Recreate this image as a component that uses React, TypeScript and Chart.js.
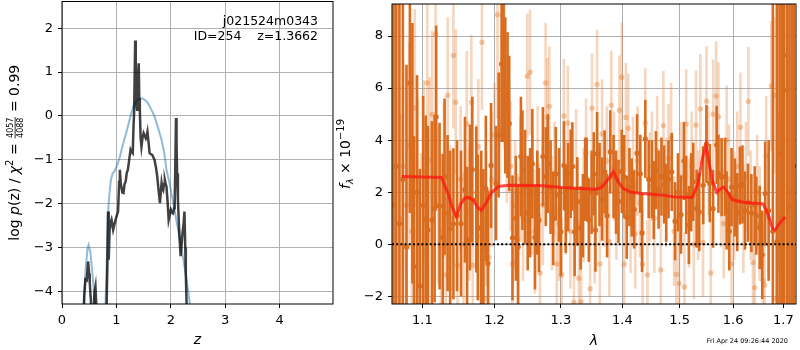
import React, { useEffect, useRef } from "react";
import { Chart, registerables } from "chart.js";

Chart.register(...registerables);

const FONT = '"DejaVu Sans", "Liberation Sans", Arial, sans-serif';

// ---------- Left panel: p(z) ----------
const zTemplate = [0.36, 0.4, 0.44, 0.47, 0.49, 0.52, 0.56, 0.6, 0.64, 0.7, 0.78, 0.8, 0.83, 0.846, 0.87, 0.9, 0.93, 0.97, 1.02, 1.06, 1.12, 1.18, 1.25, 1.31, 1.36, 1.4, 1.45, 1.49, 1.54, 1.58, 1.64, 1.7, 1.76, 1.83, 1.88, 1.92, 1.97, 2.01, 2.06, 2.1, 2.15, 2.19, 2.24, 2.29, 2.33, 2.37, 2.42];
const logpTemplate = [-5.0, -4.2, -3.4, -3.02, -2.94, -3.1, -3.6, -4.2, -5.0, -6.0, -5.0, -4.3, -3.0, -2.22, -1.8, -1.45, -1.32, -1.25, -1.1, -0.95, -0.65, -0.39, -0.05, 0.21, 0.33, 0.38, 0.4, 0.39, 0.35, 0.29, 0.15, -0.01, -0.25, -0.55, -0.85, -1.23, -1.5, -1.76, -2.08, -2.37, -2.7, -2.98, -3.35, -3.74, -4.1, -4.5, -5.2];

const zFit = [0.39, 0.41, 0.43, 0.455, 0.48, 0.5, 0.51, 0.53, 0.55, 0.57, 0.6, 0.615, 0.63, 0.65, 0.73, 0.81, 0.835, 0.846, 0.855, 0.862, 0.875, 0.89, 0.91, 0.94, 0.97, 1.0, 1.03, 1.05, 1.063, 1.08, 1.09, 1.11, 1.13, 1.15, 1.17, 1.19, 1.21, 1.24, 1.26, 1.28, 1.3, 1.315, 1.325, 1.345, 1.355, 1.365, 1.38, 1.395, 1.41, 1.42, 1.43, 1.445, 1.46, 1.48, 1.5, 1.52, 1.54, 1.555, 1.57, 1.59, 1.61, 1.64, 1.66, 1.7, 1.73, 1.75, 1.775, 1.8, 1.815, 1.83, 1.845, 1.86, 1.875, 1.89, 1.905, 1.92, 1.94, 1.96, 1.98, 2.0, 2.02, 2.04, 2.06, 2.07, 2.085, 2.095, 2.105, 2.115, 2.13, 2.15, 2.17, 2.18, 2.2, 2.215, 2.235, 2.25, 2.265, 2.275, 2.29, 2.31];
const logpFit = [-5.0, -4.1, -3.73, -3.75, -3.32, -3.6, -3.8, -4.2, -5.0, -4.6, -4.0, -3.89, -4.3, -5.0, -6.0, -5.0, -3.3, -2.18, -2.9, -3.28, -2.6, -2.45, -2.37, -2.6, -2.44, -2.3, -2.18, -1.5, -1.23, -1.55, -1.61, -1.75, -1.76, -1.55, -1.5, -1.3, -1.23, -0.95, -0.77, -0.82, -0.85, -0.2, 0.06, 1.72, 0.8, 0.3, 0.14, 0.9, 1.2, 0.4, 0.14, -0.5, -0.7, -0.5, -0.39, -0.45, -0.51, -0.45, -0.36, -0.6, -0.85, -0.88, -0.89, -1.0, -1.2, -1.38, -1.7, -1.99, -1.75, -1.53, -1.65, -1.69, -1.55, -1.46, -1.55, -1.61, -1.95, -2.37, -2.25, -2.14, -2.2, -2.22, -2.1, -2.07, -0.9, -0.05, -0.6, -1.31, -1.9, -2.52, -3.0, -3.2, -2.9, -2.67, -2.45, -2.18, -3.0, -3.6, -4.3, -5.0];

const zTicks = [0, 1, 2, 3, 4];
const logpTicks = [-4, -3, -2, -1, 0, 1, 2];
const Z_MIN = 0;
const Z_MAX = 4.98;
const LOGP_MIN = -4.29;
const LOGP_MAX = 2.61;

// ---------- Right panel: spectrum ----------
const lamDark = [1.0625, 1.066, 1.07, 1.0745, 1.0792, 1.0836, 1.0869, 1.0891, 1.093, 1.0966, 1.101, 1.1045, 1.1075, 1.1128, 1.1164, 1.1185, 1.1231, 1.1275, 1.1299, 1.134, 1.1375, 1.142, 1.147, 1.1525, 1.158, 1.161, 1.165, 1.1683, 1.1739, 1.1761, 1.181, 1.184, 1.1875, 1.1905, 1.195, 1.2022, 1.206, 1.2103, 1.2132, 1.2157, 1.219, 1.2215, 1.2263, 1.2313, 1.2347, 1.2388, 1.2411, 1.2451, 1.249, 1.2526, 1.256, 1.26, 1.2635, 1.266, 1.2721, 1.2765, 1.2798, 1.2839, 1.288, 1.292, 1.297, 1.3, 1.3048, 1.3076, 1.3115, 1.3155, 1.3181, 1.3217, 1.326, 1.3313, 1.3349, 1.3385, 1.341, 1.3445, 1.349, 1.3526, 1.3553, 1.358, 1.362, 1.3662, 1.3704, 1.3744, 1.3797, 1.3852, 1.3893, 1.3935, 1.399, 1.403, 1.4074, 1.412, 1.4159, 1.42, 1.425, 1.4306, 1.4336, 1.4392, 1.4451, 1.4508, 1.454, 1.4578, 1.4625, 1.4675, 1.4723, 1.476, 1.4801, 1.4859, 1.4918, 1.497, 1.5025, 1.5079, 1.512, 1.5169, 1.521, 1.5249, 1.5311, 1.536, 1.5434, 1.5494, 1.5556, 1.5618, 1.5686, 1.5719, 1.578, 1.5845, 1.5875, 1.5926, 1.597, 1.6035, 1.608, 1.6131, 1.6181, 1.623, 1.629, 1.6356, 1.6422, 1.6453, 1.6521, 1.6572, 1.663, 1.67, 1.6785, 1.6866, 1.692, 1.6965, 1.7007, 1.7068, 1.7123, 1.717, 1.7215];
const fluxDark = [1.5, 3.0, 0.8, 2.5, -0.1, 6.2, 3.5, -0.85, 2.0, -1.6, 1.5, 0.95, 0.55, 0.93, 1.37, 4.9, 1.47, 0.27, 2.6, 1.2, 0.6, 0.79, 1.1, 0.8, 2.1, 0.18, 1.8, 2.87, 1.72, 0.65, 0.6, -0.11, 2.14, -0.73, 3.03, 2.35, 4.2, 6.93, 6.93, 5.72, 5.35, 4.64, 0.25, 1.0, -0.1, 3.37, 2.85, 2.2, 1.2, 1.6, 3.1, 0.27, 1.6, 0.93, 3.37, 2.6, 3.1, 2.2, 1.0, 2.71, 1.9, 0.48, 3.03, 1.37, 2.2, 2.71, 2.99, 0.48, 1.65, 0.63, 1.1, 2.5, 2.5, 0.93, 2.0, 2.71, 0.55, 3.48, 2.3, 1.74, 2.78, 1.1, 3.55, 2.6, 2.0, 1.65, 2.8, 2.6, 1.04, 2.2, 1.8, 1.34, 3.5, 2.71, 0.44, 4.05, 2.5, 2.5, 1.7, 2.85, 2.1, 2.6, 2.3, 1.6, 2.5, 2.78, 0.89, 2.0, 1.14, 3.2, 1.9, 0.74, 2.0, 2.4, 1.37, 1.24, 2.27, 3.85, 2.35, 1.37, 3.82, 2.71, 2.58, 2.6, 1.3, 0.5, 2.2, 1.8, 1.24, 2.26, 2.3, 1.3, 1.6, 1.2, 1.5, 1.1, 0.65, -0.4, 1.95, 1.3, 0.5, 0.1, 3.47, 1.0, 7.26, 5.93, 1.45, 2.0, 3.0];
const errDark = [14, 14, 12, 10, 7, 5, 5, 5, 4.5, 4.5, 4.2, 4, 4, 3.8, 3.6, 3.5, 3.2, 3.2, 3, 3, 3, 2.9, 2.9, 2.8, 2.8, 2.8, 2.8, 2.8, 2.8, 2.8, 3, 3, 2.8, 2.8, 2.4, 2.2, 2.4, 3, 3, 3, 2.8, 2.6, 2.4, 2.4, 2.4, 2.3, 2.3, 2.2, 2.2, 2.1, 2.1, 2.0, 2.0, 2.0, 1.9, 1.9, 1.9, 1.8, 1.8, 1.8, 1.8, 1.7, 1.7, 1.7, 1.7, 1.7, 1.7, 1.7, 1.7, 1.6, 1.6, 1.6, 1.6, 1.6, 1.6, 1.6, 1.6, 1.6, 1.6, 1.6, 1.6, 1.6, 1.6, 1.6, 1.6, 1.6, 1.6, 1.6, 1.6, 1.5, 1.5, 1.5, 1.5, 1.5, 1.5, 1.5, 1.5, 1.5, 1.5, 1.5, 1.5, 1.5, 1.5, 1.5, 1.5, 1.5, 1.5, 1.5, 1.5, 1.5, 1.5, 1.5, 1.5, 1.5, 1.5, 1.5, 1.5, 1.5, 1.5, 1.5, 1.5, 1.5, 1.5, 1.5, 1.5, 1.5, 1.5, 1.5, 1.5, 1.5, 1.5, 1.5, 1.5, 1.5, 1.5, 1.5, 1.6, 1.7, 2.0, 2.7, 9, 12, 12, 13, 14, 14, 14, 14, 14];

const lamLight = [1.072, 1.075, 1.079, 1.0826, 1.086, 1.09, 1.094, 1.098, 1.102, 1.1066, 1.1097, 1.113, 1.1177, 1.121, 1.125, 1.129, 1.1318, 1.1342, 1.138, 1.142, 1.1452, 1.1477, 1.152, 1.156, 1.1605, 1.164, 1.167, 1.169, 1.174, 1.1768, 1.18, 1.182, 1.185, 1.188, 1.192, 1.196, 1.2, 1.2043, 1.208, 1.2141, 1.218, 1.2236, 1.2263, 1.23, 1.234, 1.238, 1.242, 1.2483, 1.2525, 1.256, 1.26, 1.264, 1.2677, 1.272, 1.2762, 1.279, 1.282, 1.286, 1.29, 1.2935, 1.297, 1.3013, 1.3048, 1.308, 1.311, 1.315, 1.3206, 1.324, 1.3285, 1.332, 1.336, 1.34, 1.3466, 1.3497, 1.354, 1.358, 1.3625, 1.3662, 1.37, 1.374, 1.378, 1.3815, 1.386, 1.39, 1.395, 1.399, 1.403, 1.406, 1.41, 1.414, 1.418, 1.422, 1.426, 1.43, 1.4345, 1.4392, 1.443, 1.447, 1.451, 1.455, 1.46, 1.4664, 1.471, 1.476, 1.48, 1.4847, 1.49, 1.4943, 1.499, 1.503, 1.5088, 1.512, 1.517, 1.522, 1.526, 1.53, 1.534, 1.538, 1.543, 1.5494, 1.553, 1.5575, 1.562, 1.5676, 1.572, 1.577, 1.582, 1.5875, 1.592, 1.597, 1.602, 1.608, 1.6142, 1.62, 1.625, 1.6297, 1.634, 1.6388, 1.6422, 1.647, 1.652, 1.6588, 1.662, 1.665, 1.67, 1.6755, 1.6812, 1.686, 1.691, 1.696];
const fluxLight = [1.0, 3.0, 1.5, 3.79, 0.5, 5.24, 2.0, 0.0, 2.8, 6.2, 3.22, 5.0, 8.08, 1.5, 0.5, 2.5, -1.17, 5.72, 1.0, 7.25, 5.46, -0.8, 2.5, 0.0, 4.62, 1.2, 5.45, -0.8, 2.0, 3.75, 0.3, 7.76, -2.1, 1.0, -0.5, 2.5, 4.2, 8.82, 4.43, 7.67, 4.0, 3.0, -0.75, 1.5, 0.2, 2.5, 1.0, 6.46, 6.61, 2.0, 0.5, 3.0, -1.1, 1.5, 6.2, 4.86, 5.3, 1.2, 2.5, -0.75, 0.8, -1.17, 4.93, 1.8, 4.66, 0.5, -2.23, 3.0, -1.3, -2.2, 1.5, 3.5, -1.7, 5.23, 0.6, 6.14, -0.75, 4.24, 2.0, 3.2, 0.1, 5.34, 3.0, 1.5, 5.15, 6.42, -0.76, 4.87, 4.46, 1.0, 2.8, 0.4, 3.2, 1.6, -0.76, 4.66, -1.17, 2.2, 3.0, 1.0, 3.6, -0.98, 4.56, 2.0, 3.3, 4.1, 0.5, -1.16, -1.5, 2.6, -1.64, 4.62, 1.2, 3.0, 0.0, 4.58, 1.5, 5.2, 0.07, 5.5, 3.2, -1.1, 5.0, 5.7, 4.9, 2.0, 0.8, 4.0, 2.5, -0.75, 1.5, 3.0, 4.5, 1.0, 2.6, 5.49, 1.5, -0.7, -1.66, 2.0, 0.8, -1.4, -1.57, 3.4, 1.0, 6.08, 5.72, -2.1, 2.0, 1.0];
const errLight = [4, 4, 4, 4, 3.8, 3.8, 3.6, 3.5, 3.5, 3.4, 3.2, 3.2, 3.2, 3, 3, 3, 3, 3, 2.8, 2.8, 2.8, 2.8, 2.8, 2.8, 2.8, 2.6, 2.6, 2.6, 2.6, 2.6, 2.6, 2.6, 2.6, 2.6, 2.6, 2.6, 2.0, 4, 2.2, 4, 2.4, 2.5, 2.5, 2.5, 2.5, 2.4, 2.4, 2.4, 2.4, 2.4, 2.4, 2.3, 2.3, 2.3, 2.3, 2.3, 2.3, 2.2, 2.2, 2.2, 2.2, 2.2, 2.2, 2.2, 2.2, 2.2, 2.2, 2.2, 2.2, 2.2, 2.2, 2.1, 2.1, 2.1, 2.1, 2.1, 2.1, 2.1, 2.1, 2.1, 2.1, 2.1, 2.1, 2.1, 2.1, 2.1, 2.1, 2.1, 2.1, 2.1, 2.1, 2.1, 2.1, 2.1, 2.1, 2.1, 2.1, 2.1, 2.1, 2.1, 2.1, 2.1, 2.1, 2.1, 2.1, 2.1, 2.1, 2.1, 2.1, 2.1, 2.1, 2.1, 2.1, 2.1, 2.1, 2.1, 2.1, 2.1, 2.1, 2.1, 2.1, 2.1, 2.1, 2.1, 2.1, 2.1, 2.1, 2.1, 2.1, 2.1, 2.1, 2.1, 2.1, 2.1, 2.1, 2.1, 2.1, 2.1, 2.2, 2.2, 2.2, 2.2, 2.3, 2.3, 2.4, 2.5, 3, 3, 3, 4, 5];

const lamModel = [1.0733, 1.1, 1.1258, 1.1347, 1.14, 1.146, 1.152, 1.158, 1.164, 1.17, 1.176, 1.181, 1.188, 1.196, 1.206, 1.22, 1.266, 1.3018, 1.3549, 1.365, 1.378, 1.385, 1.393, 1.401, 1.415, 1.4323, 1.467, 1.491, 1.523, 1.533, 1.5422, 1.5485, 1.5546, 1.5606, 1.5686, 1.575, 1.5816, 1.5905, 1.5985, 1.6198, 1.6588, 1.667, 1.678, 1.683, 1.692, 1.7034];
const fluxModel = [2.61, 2.59, 2.57, 1.95, 1.45, 1.08, 1.55, 1.78, 1.8, 1.68, 1.42, 1.31, 1.6, 2.0, 2.22, 2.27, 2.26, 2.18, 2.12, 2.18, 2.55, 2.8, 2.4, 2.15, 2.0, 1.95, 1.9, 1.82, 1.8, 2.3, 3.34, 3.8, 3.1, 2.45, 2.0, 2.12, 2.2, 1.98, 1.71, 1.62, 1.55, 1.24, 0.6, 0.55, 0.8, 1.05];

const lamTicks = [1.1, 1.2, 1.3, 1.4, 1.5, 1.6, 1.7];
const fluxTicks = [-2, 0, 2, 4, 6, 8];
const LAM_MIN = 1.0605;
const LAM_MAX = 1.726;
const FLUX_MIN = -2.29;
const FLUX_MAX = 9.23;
const ZERO_LEVEL = 0;

const DARK = "rgb(217,108,30)";
const LIGHT_BAR = "rgba(226,118,40,0.3)";
const LIGHT_PT = "rgba(226,118,40,0.38)";

const fmtNum = (v: number, digits = 0) => {
  const s = Math.abs(v).toFixed(digits);
  return v < 0 ? "\u2212" + s : s;
};

type Run = { t?: string; size: number; italic?: boolean; dy?: number; frac?: [string, string]; numDy?: number; denDy?: number; barDy?: number };

function drawRuns(ctx: CanvasRenderingContext2D, runs: Run[], cx: number, cy: number, base: number, rotate: boolean) {
  ctx.save();
  ctx.translate(cx, cy);
  if (rotate) ctx.rotate(-Math.PI / 2);
  const fontFor = (r: Run) => `${r.italic ? "italic " : ""}${r.size}px ${FONT}`;
  const widths = runs.map((r) => {
    ctx.font = fontFor(r);
    if (r.frac) return Math.max(ctx.measureText(r.frac[0]).width, ctx.measureText(r.frac[1]).width) + 2;
    return ctx.measureText(r.t || "").width;
  });
  const total = widths.reduce((a, b) => a + b, 0);
  let x = -total / 2;
  ctx.fillStyle = "#000";
  ctx.textBaseline = "alphabetic";
  ctx.textAlign = "left";
  runs.forEach((r, i) => {
    ctx.font = fontFor(r);
    const w = widths[i];
    if (r.frac) {
      const nw = ctx.measureText(r.frac[0]).width;
      const dw = ctx.measureText(r.frac[1]).width;
      ctx.fillText(r.frac[0], x + (w - nw) / 2, base + (r.numDy || 0));
      ctx.fillText(r.frac[1], x + (w - dw) / 2, base + (r.denDy || 0));
      ctx.fillRect(x + 0.5, base + (r.barDy || 0) - 0.4, w - 1, 0.8);
    } else {
      ctx.fillText(r.t || "", x, base + (r.dy || 0));
    }
    x += w;
  });
  ctx.restore();
}

const framePlugin = {
  id: "frame",
  afterDraw(chart: any) {
    const { ctx, chartArea: a } = chart;
    ctx.save();
    ctx.strokeStyle = "#000";
    ctx.lineWidth = 1;
    ctx.strokeRect(a.left, a.top, a.right - a.left, a.bottom - a.top);
    ctx.restore();
  },
};

const leftTextPlugin = {
  id: "leftText",
  afterDraw(chart: any) {
    const { ctx, chartArea: a } = chart;
    ctx.save();
    ctx.fillStyle = "#000";
    ctx.font = `12.5px ${FONT}`;
    ctx.textAlign = "right";
    ctx.textBaseline = "alphabetic";
    ctx.fillText("j021524m0343", 318, 25);
    ctx.fillText("ID=254    z=1.3662", 318, 40);
    ctx.textAlign = "center";
    ctx.font = `italic 14px ${FONT}`;
    ctx.fillText("z", (a.left + a.right) / 2, 344);
    ctx.restore();
    drawRuns(
      ctx,
      [
        { t: "log ", size: 14 },
        { t: "p", size: 14, italic: true },
        { t: "(z) / ", size: 14 },
        { t: "\u03c7", size: 14, italic: true },
        { t: "2", size: 10, dy: -6 },
        { t: " = ", size: 14 },
        { frac: ["4057", "4088"], size: 8, numDy: -5.6, denDy: 3.5, barDy: -3.9 },
        { t: " = 0.99", size: 14 },
      ],
      13,
      (a.top + a.bottom) / 2,
      6,
      true
    );
  },
};

const rightTextPlugin = {
  id: "rightText",
  afterDraw(chart: any) {
    const { ctx, chartArea: a } = chart;
    ctx.save();
    ctx.fillStyle = "#000";
    ctx.textAlign = "center";
    ctx.textBaseline = "alphabetic";
    ctx.font = `italic 14px ${FONT}`;
    ctx.fillText("\u03bb", (a.left + a.right) / 2, 345);
    ctx.font = `6.5px ${FONT}`;
    ctx.textAlign = "right";
    ctx.fillText("Fri Apr 24 09:26:44 2020", 788 - 336, 343);
    ctx.restore();
    drawRuns(
      ctx,
      [
        { t: "f", size: 14, italic: true },
        { t: "\u03bb", size: 9.5, italic: true, dy: 3 },
        { t: " \u00d7 10", size: 14 },
        { t: "\u221219", size: 10, dy: -6 },
      ],
      9,
      (a.top + a.bottom) / 2,
      5,
      true
    );
  },
};

const zeroPad = (s: any) => {
  s.paddingTop = 0;
  s.paddingBottom = 0;
  s.paddingLeft = 0;
  s.paddingRight = 0;
};

const gridOpts = { color: "#b0b0b0", lineWidth: 1, tickColor: "#000", tickLength: 4, tickWidth: 1, offset: false };
const tickFont = { family: FONT, size: 13 };

function LeftChart() {
  const ref = useRef<HTMLCanvasElement>(null);
  useEffect(() => {
    if (!ref.current) return;
    const chart = new Chart(ref.current, {
      type: "line",
      data: {
        datasets: [
          {
            data: zFit.map((z, i) => ({ x: z, y: logpFit[i] })),
            borderColor: "rgba(0,0,0,0.75)",
            borderWidth: 2.5,
            pointRadius: 0,
            tension: 0,
            clip: 0,
            order: 0,
          },
          {
            data: zTemplate.map((z, i) => ({ x: z, y: logpTemplate[i] })),
            borderColor: "rgba(31,119,180,0.5)",
            borderWidth: 2,
            pointRadius: 0,
            tension: 0,
            clip: 0,
            order: 1,
          },
        ],
      } as any,
      options: {
        animation: false,
        responsive: true,
        maintainAspectRatio: false,
        events: [],
        layout: { padding: { left: 0, right: 3, top: 1.5, bottom: 0 } },
        plugins: { legend: { display: false }, tooltip: { enabled: false } },
        scales: {
          x: {
            type: "linear",
            min: Z_MIN,
            max: Z_MAX,
            afterBuildTicks: (s: any) => {
              s.ticks = zTicks.map((v) => ({ value: v }));
            },
            afterFit: (s: any) => {
              s.height = 46;
              zeroPad(s);
            },
            grid: gridOpts,
            border: { display: false },
            ticks: { font: tickFont, color: "#000", padding: 5, maxRotation: 0, autoSkip: false, callback: (v: any) => fmtNum(Number(v)) },
          },
          y: {
            type: "linear",
            min: LOGP_MIN,
            max: LOGP_MAX,
            afterBuildTicks: (s: any) => {
              s.ticks = logpTicks.map((v) => ({ value: v }));
            },
            afterFit: (s: any) => {
              s.width = 62;
              zeroPad(s);
            },
            grid: gridOpts,
            border: { display: false },
            ticks: { font: tickFont, color: "#000", padding: 5, autoSkip: false, callback: (v: any) => fmtNum(Number(v)) },
          },
        },
      } as any,
      plugins: [framePlugin, leftTextPlugin],
    });
    return () => chart.destroy();
  }, []);
  return <canvas ref={ref} />;
}

function RightChart() {
  const ref = useRef<HTMLCanvasElement>(null);
  useEffect(() => {
    if (!ref.current) return;
    const chart = new Chart(ref.current, {
      type: "bar",
      data: {
        datasets: [
          {
            type: "line",
            data: [
              { x: LAM_MIN, y: ZERO_LEVEL },
              { x: LAM_MAX, y: ZERO_LEVEL },
            ],
            borderColor: "#000",
            borderWidth: 2,
            borderDash: [2, 2.2],
            pointRadius: 0,
            clip: 0,
            order: 0,
          },
          {
            type: "line",
            data: lamModel.map((l, i) => ({ x: l, y: fluxModel[i] })),
            borderColor: "rgba(255,20,15,0.75)",
            borderWidth: 3,
            pointRadius: 0,
            tension: 0,
            clip: 0,
            order: 1,
          },
          {
            type: "scatter",
            data: lamDark.map((l, i) => ({ x: l, y: fluxDark[i] })),
            backgroundColor: DARK,
            borderWidth: 0,
            pointRadius: 2.6,
            clip: 0,
            order: 2,
          },
          {
            type: "bar",
            data: lamDark.map((l, i) => ({ x: l, y: [fluxDark[i] - errDark[i], fluxDark[i] + errDark[i]] })),
            backgroundColor: DARK,
            borderWidth: 0,
            barThickness: 2.6,
            grouped: false,
            inflateAmount: 0,
            clip: 0,
            order: 3,
          },
          {
            type: "scatter",
            data: lamLight.map((l, i) => ({ x: l, y: fluxLight[i] })),
            backgroundColor: LIGHT_PT,
            borderWidth: 0,
            pointRadius: 2.7,
            clip: 0,
            order: 4,
          },
          {
            type: "bar",
            data: lamLight.map((l, i) => ({ x: l, y: [fluxLight[i] - errLight[i], fluxLight[i] + errLight[i]] })),
            backgroundColor: LIGHT_BAR,
            borderWidth: 0,
            barThickness: 2.6,
            grouped: false,
            inflateAmount: 0,
            clip: 0,
            order: 5,
          },
        ],
      } as any,
      options: {
        animation: false,
        responsive: true,
        maintainAspectRatio: false,
        events: [],
        layout: { padding: { left: 0, right: 1, top: 1.5, bottom: 0 } },
        plugins: { legend: { display: false }, tooltip: { enabled: false } },
        scales: {
          x: {
            type: "logarithmic",
            min: LAM_MIN,
            max: LAM_MAX,
            offset: false,
            z: 1,
            afterBuildTicks: (s: any) => {
              s.ticks = lamTicks.map((v) => ({ value: v }));
            },
            afterFit: (s: any) => {
              s.height = 46;
              zeroPad(s);
            },
            grid: gridOpts,
            border: { display: false },
            ticks: { font: tickFont, color: "#000", padding: 5, maxRotation: 0, autoSkip: false, callback: (v: any) => Number(v).toFixed(1) },
          },
          y: {
            type: "linear",
            min: FLUX_MIN,
            max: FLUX_MAX,
            beginAtZero: false,
            z: 1,
            afterBuildTicks: (s: any) => {
              s.ticks = fluxTicks.map((v) => ({ value: v }));
            },
            afterFit: (s: any) => {
              s.width = 56;
              zeroPad(s);
            },
            grid: gridOpts,
            border: { display: false },
            ticks: { font: tickFont, color: "#000", padding: 5, autoSkip: false, callback: (v: any) => fmtNum(Number(v)) },
          },
        },
      } as any,
      plugins: [framePlugin, rightTextPlugin],
    });
    return () => chart.destroy();
  }, []);
  return <canvas ref={ref} />;
}

export default function App() {
  useEffect(() => {
    document.body.style.margin = "0";
  }, []);
  return (
    <div style={{ position: "absolute", left: 0, top: 0, width: 800, height: 350, background: "#fff" }}>
      <div style={{ position: "absolute", left: 0, top: 0, width: 336, height: 350 }}>
        <LeftChart />
      </div>
      <div style={{ position: "absolute", left: 336, top: 0, width: 464, height: 350 }}>
        <RightChart />
      </div>
    </div>
  );
}
